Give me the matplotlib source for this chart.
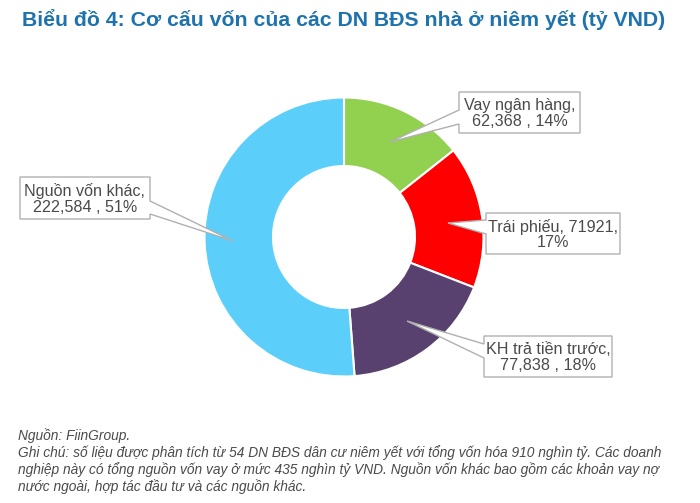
import matplotlib
matplotlib.use("Agg")
import matplotlib.pyplot as plt
from matplotlib.patches import Polygon

# ---- data ----
categories = ["Vay ngân hàng", "Trái phiếu", "KH trả tiền trước", "Nguồn vốn khác"]
values = [62368, 71921, 77838, 222584]
value_text = ["62,368", "71921", "77,838", "222,584"]
pct_text = ["14%", "17%", "18%", "51%"]
colors = ["#92D050", "#FF0000", "#59416F", "#5BCEFA"]
label_text = [
    "Vay ngân hàng,\n62,368 , 14%",
    "Trái phiếu, 71921,\n17%",
    "KH trả tiền trước,\n77,838 , 18%",
    "Nguồn vốn khác,\n222,584 , 51%",
]
title = "Biểu đồ 4: Cơ cấu vốn của các DN BĐS nhà ở niêm yết (tỷ VND)"
notes = [
    "Nguồn: FiinGroup.",
    "Ghi chú: số liệu được phân tích từ 54 DN BĐS dân cư niêm yết với tổng vốn hóa 910 nghìn tỷ. Các doanh",
    "nghiệp này có tổng nguồn vốn vay ở mức 435 nghìn tỷ VND. Nguồn vốn khác bao gồm các khoản vay nợ",
    "nước ngoài, hợp tác đầu tư và các nguồn khác.",
]

W, H = 700, 503
fig = plt.figure(figsize=(7, 5.03), dpi=100)
ax = fig.add_axes([0, 0, 1, 1])

def Y(y):  # pixel row -> data y
    return H - y

cx, cy, R, Rin = 344, 237, 139.5, 71
ax.pie(values, colors=colors, startangle=90, counterclock=False,
       center=(cx, Y(cy)), radius=R,
       wedgeprops=dict(width=R - Rin, edgecolor="white", linewidth=1.5),
       frame=True)
ax.set_xlim(0, W)
ax.set_ylim(0, H)
ax.set_aspect("equal")
ax.axis("off")

# callouts: box (x0, y0, x1, y1) in pixels, side, base (a, b) along side, tip
callouts = [
    ((459, 92, 580, 133), "left", (110, 124), (390, 142)),
    ((486, 213, 620, 254), "left", (220, 234), (448, 223)),
    ((484, 336, 612, 377), "left", (344, 358), (407, 321)),
    ((20, 177, 150, 219), "right", (201, 214), (233, 241)),
]
edge = "#B0B0B0"
for (box, side, (a, b), tip), txt in zip(callouts, label_text):
    x0, y0, x1, y1 = box
    if side == "left":
        pts = [(x0, y0), (x1, y0), (x1, y1), (x0, y1), (x0, b), tip, (x0, a)]
    else:
        pts = [(x0, y0), (x1, y0), (x1, a), tip, (x1, b), (x1, y1), (x0, y1)]
    pts = [(px, Y(py)) for px, py in pts]
    ax.add_patch(Polygon(pts, closed=True, facecolor="white", edgecolor=edge,
                         linewidth=1.0, zorder=5, joinstyle="miter"))
    ax.text((x0 + x1) / 2, Y((y0 + y1) / 2 + 1), txt, ha="center", va="center",
            fontsize=11.6, family=["Liberation Sans", "DejaVu Sans"],
            color="#4A4A4A", linespacing=1.05, zorder=6)

fig.canvas.draw()
renderer = fig.canvas.get_renderer()

def fit_text(x, y, s, width_px, **kw):
    t = fig.text(x / W, 1 - y / H, s, **kw)
    bb = t.get_window_extent(renderer)
    t.set_fontsize(t.get_fontsize() * width_px / bb.width)
    return t

fit_text(22, 20, title, 646, fontsize=14, fontweight="bold", color="#1E73AE",
         family=["Liberation Sans Narrow", "Liberation Sans", "DejaVu Sans"],
         va="center", ha="left")

note_y = [436, 453, 470, 487]
t0 = fit_text(18, note_y[1], notes[1], 645, fontsize=9, style="italic", color="#4A4A4A",
              family=["Liberation Sans", "DejaVu Sans"], va="center", ha="left")
fs = t0.get_fontsize()
for i in (0, 2, 3):
    fig.text(18 / W, 1 - note_y[i] / H, notes[i], fontsize=fs, style="italic",
             color="#4A4A4A", family=["Liberation Sans", "DejaVu Sans"],
             va="center", ha="left")

fig.savefig("out.png", dpi=100, facecolor="white")
